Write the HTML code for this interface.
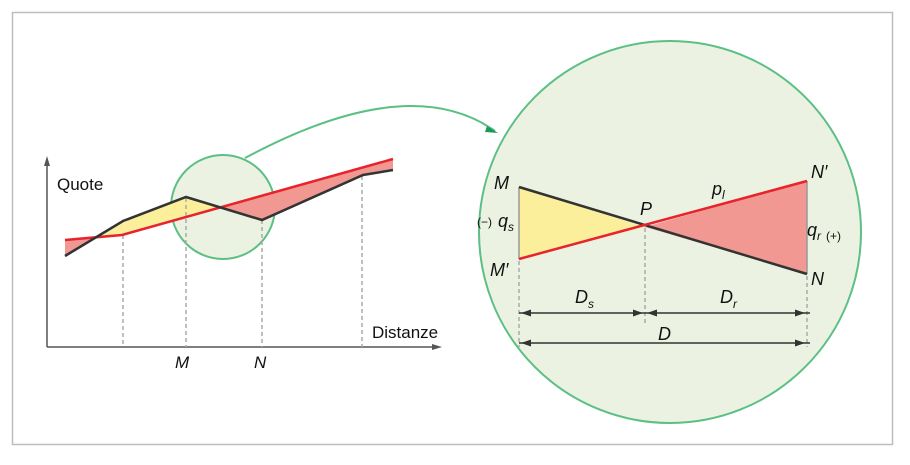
<!DOCTYPE html>
<html><head><meta charset="utf-8"><style>
body{margin:0;background:#fff;}
svg text{font-family:"Liberation Sans",sans-serif;}
</style></head><body>
<svg width="910" height="460" viewBox="0 0 910 460" xmlns="http://www.w3.org/2000/svg">
<rect x="12.5" y="12.5" width="880" height="432" fill="#fff" stroke="#bdbdbd" stroke-width="1.5"/>
<!-- small circle -->
<circle cx="223" cy="207" r="52" fill="#ecf2e2" stroke="#5cbf84" stroke-width="2"/>
<!-- left fills -->
<polygon points="65,256 65,240 97,237" fill="#f19892"/>
<polygon points="97,237 123,221 186,197 220,207 186,216 122,235" fill="#fbef9c"/>
<polygon points="220,207 262,220 363,175 393,170 393,159" fill="#f19892"/>
<!-- axes -->
<g stroke="#555" stroke-width="1.5" fill="none">
<line x1="47" y1="347" x2="47" y2="162"/>
<line x1="47" y1="347" x2="436" y2="347"/>
</g>
<polygon points="47,156 44,166 50,166" fill="#555"/>
<polygon points="442,347 432,344 432,350" fill="#555"/>
<!-- dashed -->
<g stroke="#aaa" stroke-width="1.5" stroke-dasharray="4,3">
<line x1="123" y1="235" x2="123" y2="347"/>
<line x1="186" y1="198" x2="186" y2="347"/>
<line x1="262" y1="220" x2="262" y2="347"/>
<line x1="362" y1="176" x2="362" y2="347"/>
</g>
<polyline points="65,240 122,235 393,159" fill="none" stroke="#e8232b" stroke-width="2.5"/>
<polyline points="65,256 123,221 186,197 262,220 363,175 393,170" fill="none" stroke="#333" stroke-width="2.5"/>
<text x="57" y="190" font-size="17" fill="#111">Quote</text>
<text x="372" y="338" font-size="17" fill="#111">Distanze</text>
<text x="175" y="368" font-size="17" font-style="italic" fill="#111">M</text>
<text x="254" y="368" font-size="17" font-style="italic" fill="#111">N</text>
<!-- connector -->
<path d="M245,158 Q409,70 495,131" fill="none" stroke="#5cbf84" stroke-width="2"/>
<polygon points="498,133 487,126 485,132" fill="#1a9a55"/>
<!-- big circle -->
<circle cx="670" cy="232" r="191" fill="#ecf2e2" stroke="#5cbf84" stroke-width="2"/>
<polygon points="519,187 519,259 645,227" fill="#fbef9c"/>
<polygon points="645,227 807,181 807,274" fill="#f19892"/>
<line x1="519" y1="187" x2="519" y2="259" stroke="#999" stroke-width="1.5"/>
<line x1="807" y1="181" x2="807" y2="274" stroke="#999" stroke-width="1.5"/>
<line x1="519" y1="187" x2="807" y2="274" stroke="#333" stroke-width="2.5"/>
<line x1="519" y1="259" x2="807" y2="181" stroke="#e8232b" stroke-width="2.5"/>
<g stroke="#aaa" stroke-width="1.5" stroke-dasharray="4,3">
<line x1="519" y1="261" x2="519" y2="347"/>
<line x1="645" y1="228" x2="645" y2="324"/>
<line x1="807" y1="276" x2="807" y2="347"/>
</g>
<g stroke="#333" stroke-width="1.5">
<line x1="519" y1="313" x2="810" y2="313"/>
<line x1="519" y1="343" x2="810" y2="343"/>
</g>
<g fill="#333">
<polygon points="521,313 531,309.5 531,316.5"/>
<polygon points="643,313 633,309.5 633,316.5"/>
<polygon points="647,313 657,309.5 657,316.5"/>
<polygon points="805,313 795,309.5 795,316.5"/>
<polygon points="521,343 531,339.5 531,346.5"/>
<polygon points="805,343 795,339.5 795,346.5"/>
</g>
<g font-size="18" font-style="italic" fill="#111">
<text x="494" y="189">M</text>
<text x="490" y="276">M′</text>
<text x="640" y="215">P</text>
<text x="811" y="178">N′</text>
<text x="811" y="285">N</text>
<text x="712" y="195">p<tspan font-size="12" dy="4">l</tspan></text>
<text x="498" y="227">q<tspan font-size="12" dy="4">s</tspan></text>
<text x="807" y="236">q<tspan font-size="12" dy="4">r</tspan></text>
<text x="575" y="303">D<tspan font-size="12" dy="5">s</tspan></text>
<text x="720" y="303">D<tspan font-size="12" dy="5">r</tspan></text>
<text x="658" y="340">D</text>
</g>
<text x="477" y="226" font-size="12" fill="#111">(−)</text>
<text x="826" y="240" font-size="12" fill="#111">(+)</text>
</svg>
</body></html>
